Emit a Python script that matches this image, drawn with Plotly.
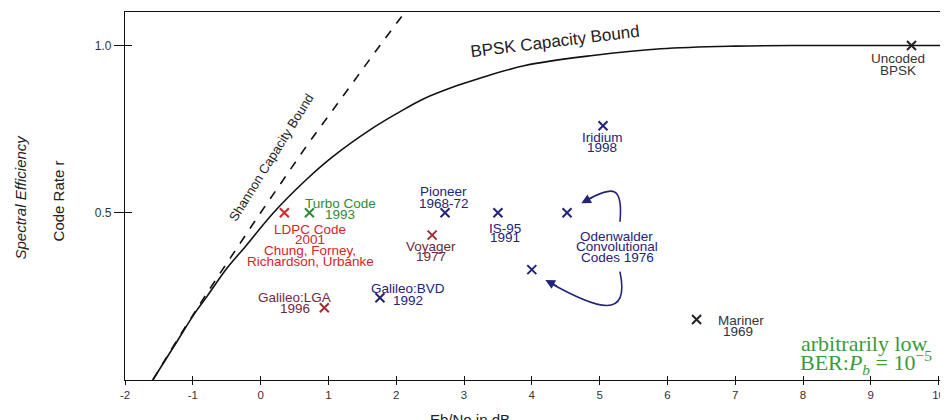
import plotly.graph_objects as go

# ---------------- data ----------------
# Shannon capacity bound: Eb/No (dB) vs code rate
shannon_ebno = [-1.59, -1.44, -1.29, -0.98, -0.66, -0.33, 0.00, 0.34, 0.68, 1.04, 1.40, 1.76, 2.13]
shannon_rate = [0.00, 0.05, 0.10, 0.20, 0.30, 0.40, 0.50, 0.60, 0.70, 0.80, 0.90, 1.00, 1.10]

# BPSK capacity bound
bpsk_ebno = [-1.59, -1.28, -0.97, -0.79, -0.50, -0.22, 0.19, 0.68, 1.06, 1.63, 2.04, 2.40,
             2.90, 3.20, 3.90, 4.90, 5.90, 7.00, 8.00, 10.05]
bpsk_rate = [0.00, 0.10, 0.20, 0.25, 0.333, 0.40, 0.50, 0.60, 0.667, 0.75, 0.80, 0.84,
             0.88, 0.90, 0.94, 0.97, 0.99, 0.998, 1.00, 1.00]

# coded systems (markers)
code_names = ["Uncoded BPSK", "Iridium 1998", "Turbo Code 1993", "LDPC Code 2001",
              "Pioneer 1968-72", "Voyager 1977", "IS-95 1991", "Odenwalder (r=1/2)",
              "Odenwalder (r=1/3)", "Galileo:BVD 1992", "Galileo:LGA 1996", "Mariner 1969"]
code_ebno = [9.60, 5.05, 0.72, 0.35, 2.72, 2.53, 3.50, 4.52, 4.00, 1.76, 0.94, 6.43]
code_rate = [1.00, 0.76, 0.50, 0.50, 0.50, 0.433, 0.50, 0.50, 0.33, 0.246, 0.216, 0.181]
code_colors = ["#222222", "#23237a", "#2e8b3a", "#e0202a", "#23237a", "#a0302e", "#23237a",
               "#23237a", "#23237a", "#23237a", "#a0302e", "#222222"]

x_ticks = [-2, -1, 0, 1, 2, 3, 4, 5, 6, 7, 8, 9, 10]
x_tick_labels = ["-2", "-1", "0", "1", "2", "3", "4", "5", "6", "7", "8", "9", "10"]
y_ticks = [0.5, 1.0]
y_tick_labels = ["0.5", "1.0"]

# ---------------- figure ----------------
NAVY = "#23237a"
RED = "#e0202a"
GREEN = "#2e8b3a"
MAROON = "#6e2a3c"
DARK = "#333333"
FONT = "Liberation Sans, Arial, sans-serif"

fig = go.Figure()

fig.add_trace(go.Scatter(x=shannon_ebno, y=shannon_rate, mode="lines",
                         line=dict(color="#111111", width=1.6, dash="dash", shape="spline"),
                         hoverinfo="skip", showlegend=False))
fig.add_trace(go.Scatter(x=bpsk_ebno, y=bpsk_rate, mode="lines",
                         line=dict(color="#111111", width=1.6, shape="spline"),
                         hoverinfo="skip", showlegend=False))
fig.add_trace(go.Scatter(x=code_ebno, y=code_rate, mode="markers", text=code_names,
                         marker=dict(symbol="x-thin", size=9,
                                     line=dict(color=code_colors, width=2)),
                         showlegend=False))
# dummy trace for the overlay axes (inside tick marks)
fig.add_trace(go.Scatter(x=[None], y=[None], xaxis="x2", yaxis="y2",
                         showlegend=False, hoverinfo="skip"))

labels = [
    ("Turbo Code", 1.175, 0.529, GREEN), ("1993", 1.175, 0.496, GREEN),
    ("LDPC Code", 0.735, 0.451, RED), ("2001", 0.735, 0.419, RED),
    ("Chung, Forney,", 0.735, 0.386, RED), ("Richardson, Urbanke", 0.735, 0.353, RED),
    ("Pioneer", 2.70, 0.562, NAVY), ("1968-72", 2.70, 0.529, NAVY),
    ("Voyager", 2.51, 0.398, MAROON), ("1977", 2.51, 0.368, MAROON),
    ("IS-95", 3.61, 0.454, NAVY), ("1991", 3.61, 0.425, NAVY),
    ("Odenwalder", 5.25, 0.430, NAVY), ("Convolutional", 5.26, 0.398, NAVY),
    ("Codes 1976", 5.26, 0.365, NAVY),
    ("Galileo:BVD", 2.175, 0.275, NAVY), ("1992", 2.175, 0.239, NAVY),
    ("Galileo:LGA", 0.50, 0.248, MAROON), ("1996", 0.50, 0.215, MAROON),
    ("Iridium", 5.04, 0.726, NAVY), ("1998", 5.04, 0.694, NAVY),
    ("Uncoded", 9.40, 0.960, DARK), ("BPSK", 9.40, 0.924, DARK),
    ("Mariner", 7.08, 0.179, DARK), ("1969", 7.04, 0.146, DARK),
]
annotations = []
for txt, x, y, col in labels:
    annotations.append(dict(text=txt, x=x, y=y, xref="x", yref="y", showarrow=False,
                            font=dict(family=FONT, size=13.5, color=col),
                            xanchor="center", yanchor="middle"))

annotations += [
    dict(text="BPSK Capacity Bound", x=4.335, y=1.012, xref="x", yref="y", showarrow=False,
         textangle=-7, font=dict(family=FONT, size=17, color="#222222")),
    dict(text="Shannon Capacity Bound", x=0.16, y=0.664, xref="x", yref="y", showarrow=False,
         textangle=-58, font=dict(family=FONT, size=13, color="#222222")),
    dict(text="arbitrarily low", x=0.985, y=0.1005, xref="paper", yref="paper",
         showarrow=False, xanchor="right", yanchor="middle",
         font=dict(family="Liberation Serif, Times New Roman, serif", size=22, color="#3a9a3a")),
    dict(text="BER:<i>P<sub>b</sub></i> = 10<sup>−5</sup>", x=0.99, y=0.047,
         xref="paper", yref="paper", showarrow=False, xanchor="right", yanchor="middle",
         font=dict(family="Liberation Serif, Times New Roman, serif", size=22, color="#3a9a3a")),
    dict(text="Eb/No in dB", x=0.422, y=-0.078, xref="paper", yref="paper", showarrow=False,
         xanchor="center", yanchor="top", font=dict(family=FONT, size=15, color="#222222")),
    dict(text="<i>Spectral Efficiency</i>", x=-0.128, y=0.497, xref="paper", yref="paper",
         showarrow=False, textangle=-90, xanchor="center", yanchor="middle",
         font=dict(family=FONT, size=15, color="#222222")),
    dict(text="Code Rate r", x=-0.0817, y=0.486, xref="paper", yref="paper",
         showarrow=False, textangle=-90, xanchor="center", yanchor="middle",
         font=dict(family=FONT, size=15, color="#222222")),
    # arrow heads for the Odenwalder curved arrows
    dict(x=4.73, y=0.528, xref="x", yref="y", ax=13, ay=-7, axref="pixel", ayref="pixel",
         showarrow=True, arrowhead=2, arrowsize=1.2, arrowwidth=1.6, arrowcolor=NAVY, text=""),
    dict(x=4.20, y=0.299, xref="x", yref="y", ax=13, ay=7, axref="pixel", ayref="pixel",
         showarrow=True, arrowhead=2, arrowsize=1.2, arrowwidth=1.6, arrowcolor=NAVY, text=""),
]

shapes = [
    dict(type="path", xref="x", yref="y",
         path="M 5.30 0.473 C 5.35 0.583 5.20 0.583 4.76 0.532",
         line=dict(color=NAVY, width=1.6)),
    dict(type="path", xref="x", yref="y",
         path="M 5.30 0.324 C 5.45 0.179 4.98 0.209 4.246 0.293",
         line=dict(color=NAVY, width=1.6)),
]

# the page body adds an 8px margin, so the figure is 8px smaller and margins shifted
fig.update_layout(
    width=940, height=412,
    margin=dict(l=117, r=3, t=4, b=40),
    paper_bgcolor="white", plot_bgcolor="white",
    showlegend=False,
    annotations=annotations,
    shapes=shapes,
    xaxis=dict(range=[-2, 10.05], tickvals=x_ticks, ticktext=x_tick_labels,
               ticks="outside", ticklen=4,
               tickcolor="#111111", showline=True, linecolor="#111111", linewidth=1.3,
               mirror=True, showgrid=False, zeroline=False,
               tickfont=dict(family=FONT, size=11.5, color=DARK)),
    yaxis=dict(range=[0, 1.1], tickvals=y_ticks, ticktext=y_tick_labels, ticks="outside",
               ticklen=10, tickcolor="#111111", showline=True, linecolor="#111111",
               linewidth=1.3, mirror=True, showgrid=False, zeroline=False,
               tickfont=dict(family=FONT, size=12, color=DARK)),
    xaxis2=dict(overlaying="x", matches="x", tickvals=x_ticks, ticks="inside", ticklen=4,
                tickcolor="#111111", showticklabels=False, showline=False, showgrid=False,
                zeroline=False, anchor="y2", side="bottom"),
    yaxis2=dict(overlaying="y", matches="y", tickvals=y_ticks, ticks="inside", ticklen=7,
                tickcolor="#111111", showticklabels=False, showline=False, showgrid=False,
                zeroline=False, anchor="x2", side="left"),
)

fig.write_html("out.html")
